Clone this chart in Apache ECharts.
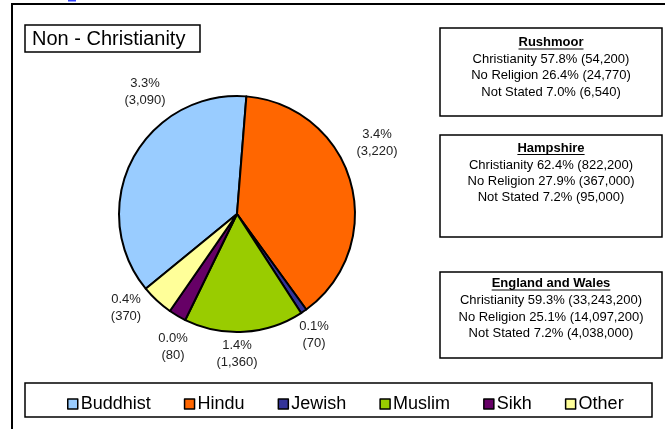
<!DOCTYPE html>
<html><head><meta charset="utf-8">
<script src="https://cdn.jsdelivr.net/npm/echarts@6/dist/echarts.min.js"></script>
<style>html,body{margin:0;padding:0;background:#fff}#c{width:665px;height:429px}</style>
</head><body><div id="c"></div>
<script>
// ---- data ----
const categories = ['Buddhist', 'Hindu', 'Jewish', 'Muslim', 'Sikh', 'Other'];
// slice sizes
const sliceValues = [3090, 3220, 70, 1360, 200, 370];
const labelPercents = ['3.3%', '3.4%', '0.1%', '1.4%', '0.0%', '0.4%'];
const labelCounts = ['(3,090)', '(3,220)', '(70)', '(1,360)', '(80)', '(370)'];
const chartTitle = 'Non - Christianity';
const areaNames = ['Rushmoor', 'Hampshire', 'England and Wales'];
const christianity = ['57.8% (54,200)', '62.4% (822,200)', '59.3% (33,243,200)'];
const noReligion = ['26.4% (24,770)', '27.9% (367,000)', '25.1% (14,097,200)'];
const notStated = ['7.0% (6,540)', '7.2% (95,000)', '7.2% (4,038,000)'];

// ---- styles / layout ----
const colors = ['#99CCFF', '#FF6600', '#333399', '#99CC00', '#660066', '#FFFF99'];
const FONT = '"Liberation Sans", Arial, sans-serif';
const labelPos = [[145, 92], [377, 143], [314, 335], [237, 354], [173, 347], [126, 308]];
const boxes = [{y: 28, h: 88, ty: [42.5, 59, 75.5, 92]},
               {y: 135, h: 102, ty: [148, 165, 181.5, 197]},
               {y: 272, h: 86, ty: [283.5, 300.5, 317, 333.5]}];
const BOX_X = 440, BOX_W = 222, BOX_CX = 551;

const ctx = document.createElement('canvas').getContext('2d');
function textW(t, f) { ctx.font = f; return ctx.measureText(t).width; }

const graphics = [
  {type: 'rect', shape: {x: 12, y: 4, width: 700, height: 500}, style: {fill: 'none', stroke: '#000', lineWidth: 2}, silent: true},
  {type: 'rect', shape: {x: 68, y: 0, width: 8, height: 1.5}, style: {fill: '#3344ff'}, silent: true},
  {type: 'rect', shape: {x: 25, y: 25, width: 175, height: 27}, style: {fill: '#fff', stroke: '#000', lineWidth: 1.5}},
  {type: 'text', x: 32, y: 39, style: {text: chartTitle, font: '20px ' + FONT, fill: '#000', verticalAlign: 'middle'}},
  {type: 'rect', shape: {x: 25, y: 383, width: 627, height: 34}, style: {fill: '#fff', stroke: '#000', lineWidth: 1.5}, z: -1}
];
boxes.forEach((b, i) => {
  graphics.push({type: 'rect', shape: {x: BOX_X, y: b.y, width: BOX_W, height: b.h}, style: {fill: '#fff', stroke: '#000', lineWidth: 1.5}});
  const hf = 'bold 13px ' + FONT;
  const lines = [areaNames[i], 'Christianity ' + christianity[i], 'No Religion ' + noReligion[i], 'Not Stated ' + notStated[i]];
  lines.forEach((t, j) => {
    graphics.push({type: 'text', x: BOX_CX, y: b.ty[j], style: {text: t, font: (j === 0 ? hf : '13px ' + FONT), fill: '#000', align: 'center', verticalAlign: 'middle'}});
  });
  const w = textW(areaNames[i], hf);
  graphics.push({type: 'line', shape: {x1: BOX_CX - w / 2, y1: b.ty[0] + 6.5, x2: BOX_CX + w / 2, y2: b.ty[0] + 6.5}, style: {stroke: '#000', lineWidth: 1}});
});

const chart = echarts.init(document.getElementById('c'), null, {renderer: 'canvas'});
chart.setOption({
  animation: false,
  color: colors,
  graphic: graphics,
  legend: {
    data: categories, left: 62, top: 390, icon: 'rect', itemWidth: 10, itemHeight: 10, itemGap: 33,
    textStyle: {fontFamily: FONT, fontSize: 18, color: '#000', padding: [0, 0, 0, -2]},
    itemStyle: {borderColor: '#000', borderWidth: 1.5}, selectedMode: false
  },
  series: [{
    type: 'pie', center: [237, 214], radius: 118, startAngle: 219.3, clockwise: true,
    avoidLabelOverlap: false,
    itemStyle: {borderColor: '#000', borderWidth: 2},
    emphasis: {disabled: true},
    label: {
      show: true, position: 'outside', fontFamily: FONT, fontSize: 13, color: '#222', lineHeight: 16.5, align: 'center',
      formatter: p => labelPercents[p.dataIndex] + '\n' + labelCounts[p.dataIndex]
    },
    labelLine: {show: false},
    labelLayout: p => ({x: labelPos[p.dataIndex][0], y: labelPos[p.dataIndex][1], align: 'center', verticalAlign: 'middle'}),
    data: categories.map((c, i) => ({name: c, value: sliceValues[i]}))
  }]
});
</script></body></html>
